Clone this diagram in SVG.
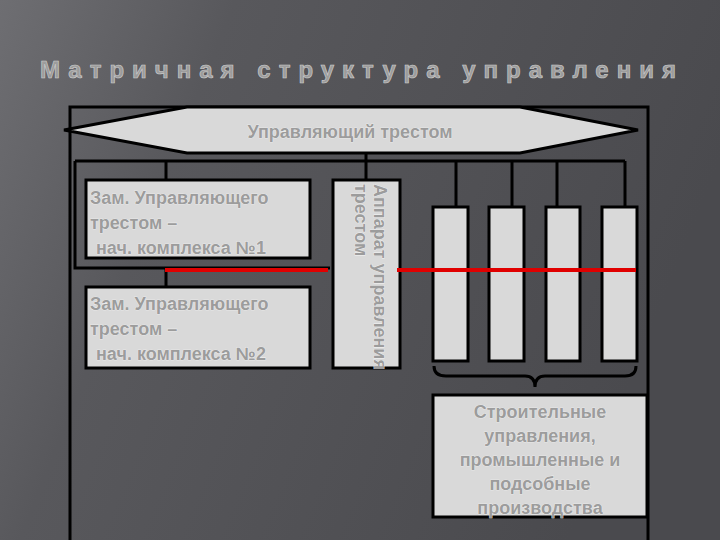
<svg xmlns="http://www.w3.org/2000/svg" width="720" height="540" viewBox="0 0 720 540">
<defs>
<linearGradient id="bg" x1="0" y1="0" x2="1" y2="0.3">
<stop offset="0" stop-color="#6e6e72"/><stop offset="0.3" stop-color="#58585c"/><stop offset="1" stop-color="#4a4a4e"/>
</linearGradient>
<style>
.b{fill:#d9d9d9;stroke:#000;stroke-width:3}
.l{fill:none;stroke:#000;stroke-width:3}
.r{stroke:#e00000;stroke-width:4}
.t{font-family:"Liberation Sans",Arial,sans-serif;font-size:18px;font-weight:bold;fill:#9c9c9c;stroke:#f4f4f4;stroke-width:0.7;paint-order:stroke}
</style>
</defs>
<rect width="720" height="540" fill="url(#bg)"/>
<text x="362" y="78" text-anchor="middle" font-family="Liberation Sans,Arial,sans-serif" font-size="24" font-weight="bold" letter-spacing="8" fill="#9c9c9c" stroke="#d0d0d0" stroke-width="0.6">Матричная структура управления</text>
<g id="connectors">
<polyline class="l" points="70,540 70,107 648,107 648,540"/>
<polyline class="l" points="75,161 625,161"/>
<polyline class="l" points="75,161 75,268 330,268"/>
<line class="l" x1="166" y1="161" x2="166" y2="180"/>
<line class="l" x1="166" y1="268" x2="166" y2="287"/>
<line class="l" x1="366" y1="153" x2="366" y2="180"/>
<line class="l" x1="456" y1="161" x2="456" y2="207"/>
<line class="l" x1="512" y1="161" x2="512" y2="207"/>
<line class="l" x1="557" y1="161" x2="557" y2="207"/>
<line class="l" x1="625" y1="161" x2="625" y2="207"/>
<path class="l" d="M434,366 Q434,376 446,376 L525,376 Q535,376 535,387 Q535,376 545,376 L625,376 Q636,376 636,366"/>
</g>
<g id="head">
<polygon class="b" points="64,130 187,107 520,107 638,130 520,153 187,153"/>
<text class="t" x="350" y="138" text-anchor="middle">Управляющий трестом</text>
</g>
<g id="zam1"><rect class="b" x="86" y="180" width="224" height="78"/>
<text class="t" x="90" y="204">Зам. Управляющего<tspan x="90" dy="25">трестом –</tspan><tspan x="96" dy="25">нач. комплекса №1</tspan></text></g>
<g id="zam2"><rect class="b" x="86" y="287" width="224" height="81"/>
<text class="t" x="90" y="310">Зам. Управляющего<tspan x="90" dy="25">трестом –</tspan><tspan x="96" dy="25">нач. комплекса №2</tspan></text></g>
<g id="apparat"><rect class="b" x="333" y="180" width="67" height="188"/>
<text class="t" font-size="17" transform="translate(374,184) rotate(90)">Аппарат управления<tspan x="0" dy="19">трестом</tspan></text></g>
<g id="u1"><rect class="b" x="433" y="207" width="35" height="154"/></g>
<g id="u2"><rect class="b" x="489" y="207" width="35" height="154"/></g>
<g id="u3"><rect class="b" x="546" y="207" width="34" height="154"/></g>
<g id="u4"><rect class="b" x="602" y="207" width="35" height="154"/></g>
<g id="red">
<line class="r" x1="165" y1="270" x2="328" y2="270"/>
<line class="r" x1="397" y1="270" x2="636" y2="270"/>
</g>
<g id="stroy"><rect class="b" x="433" y="395" width="214" height="122"/>
<text class="t" x="540" y="418" text-anchor="middle">Строительные<tspan x="540" dy="24">управления,</tspan><tspan x="540" dy="24">промышленные и</tspan><tspan x="540" dy="24">подсобные</tspan><tspan x="540" dy="24">производства</tspan></text></g>
</svg>
